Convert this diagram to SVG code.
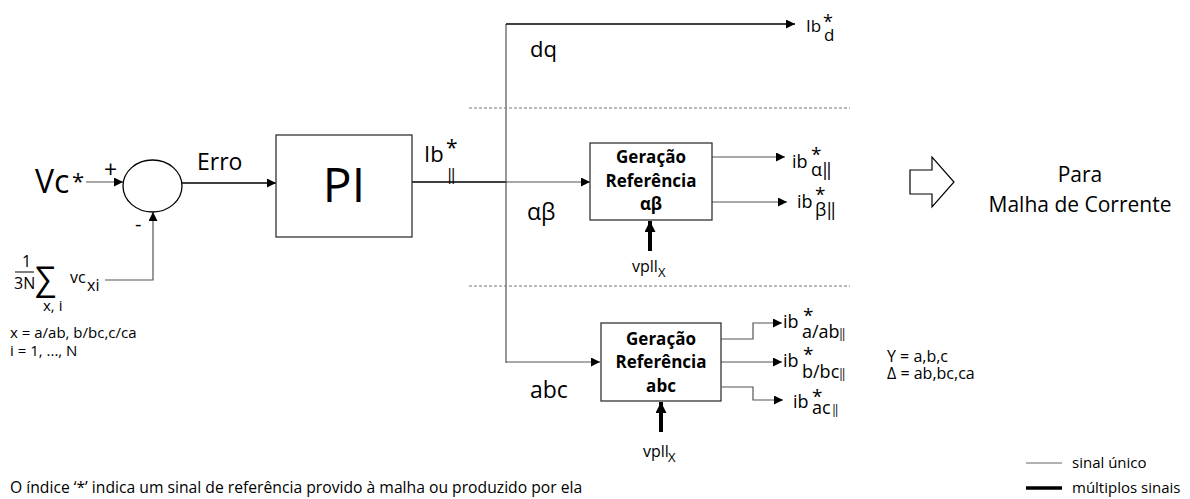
<svg xmlns="http://www.w3.org/2000/svg" width="1190" height="499" viewBox="0 0 1190 499">
<defs>
<marker id="ah" viewBox="0 0 10 10" refX="10" refY="5" markerWidth="10" markerHeight="9" markerUnits="userSpaceOnUse" orient="auto"><path d="M0,0 L10,5 L0,10 z" fill="#000"/></marker>
<marker id="ahb" viewBox="0 0 10 10" refX="10" refY="5" markerWidth="12" markerHeight="11" markerUnits="userSpaceOnUse" orient="auto"><path d="M0,0 L10,5 L0,10 z" fill="#000"/></marker>
<style>
text{font-family:"Open Sans","Noto Sans","Liberation Sans",sans-serif;fill:#000}
.w{stroke:#555;stroke-width:1.2;fill:none}
.k{stroke:#000;stroke-width:1.3;fill:none}
.box{fill:#fff;stroke:#333;stroke-width:1.3}
.thick{stroke:#000;stroke-width:4;fill:none}
.dash{stroke:#777;stroke-width:1;stroke-dasharray:3,2;fill:none}
.b{font-weight:bold;font-size:17px}
.m{font-size:23px}
.s{font-size:15px}
.o{font-size:18px}
.st{font-size:19px}
.p{font-size:13px}
</style>
</defs>
<rect width="1190" height="499" fill="#fff"/>

<g id="connectors">
<line class="w" x1="86" y1="182" x2="123" y2="182" marker-end="url(#ah)"/>
<polyline class="w" points="105,280 153,280 153,212" marker-end="url(#ah)"/>
<line class="k" x1="182" y1="183" x2="276" y2="183" marker-end="url(#ah)"/>
<line class="k" x1="412" y1="182" x2="507" y2="182" stroke-width="1.8"/>
<line class="w" x1="506" y1="182" x2="590" y2="182" marker-end="url(#ah)"/>
<line class="w" x1="506" y1="24" x2="506" y2="363"/>
<line class="k" x1="506" y1="24" x2="795" y2="24" marker-end="url(#ah)"/>
<line class="w" x1="506" y1="362" x2="600" y2="362" marker-end="url(#ah)"/>
<line class="dash" x1="469" y1="108" x2="850" y2="108"/>
<line class="dash" x1="469" y1="286" x2="850" y2="286"/>
<line class="w" x1="712" y1="157" x2="785" y2="157" marker-end="url(#ah)"/>
<line class="w" x1="712" y1="202" x2="787" y2="202" marker-end="url(#ah)"/>
<line class="thick" x1="650" y1="251" x2="650" y2="221" marker-end="url(#ahb)"/>
<polyline class="w" points="721,339 753,339 753,323 782,323" marker-end="url(#ah)"/>
<line class="w" x1="721" y1="362" x2="782" y2="362" marker-end="url(#ah)"/>
<polyline class="w" points="722,387 753,387 753,400 783,400" marker-end="url(#ah)"/>
<line class="thick" x1="661" y1="432" x2="661" y2="402" marker-end="url(#ahb)"/>
</g>

<g id="input-vc">
<text x="35" y="193" font-size="32">Vc</text>
<text x="72" y="189" font-size="22">*</text>
</g>

<g id="sum">
<ellipse cx="152.5" cy="186" rx="29.5" ry="26" fill="#fff" stroke="#000" stroke-width="1.3"/>
<text x="104" y="178" font-size="23">+</text>
<text x="135" y="231" font-size="20">-</text>
</g>

<g id="feedback">
<text x="22" y="267" font-size="16">1</text>
<line x1="15" y1="272" x2="34" y2="272" stroke="#000" stroke-width="1"/>
<text x="14" y="289" font-size="16">3N</text>
<text x="35" y="290" font-size="33" font-family="DejaVu Sans">∑</text>
<text x="70" y="283" font-size="16">vc</text>
<text x="87" y="291" font-size="16">xi</text>
<text x="43" y="311" font-size="15">x, i</text>
<text x="10" y="338" class="s">x = a/ab, b/bc,c/ca</text>
<text x="10" y="356" class="s">i = 1, ..., N</text>
</g>

<g id="erro"><text x="197" y="170" class="m">Erro</text></g>

<g id="pi">
<rect class="box" x="276" y="135" width="136" height="102"/>
<text x="344" y="202" font-size="48" text-anchor="middle">PI</text>
</g>

<g id="ib-par">
<text x="424" y="162" font-size="22">Ib</text>
<text x="447" y="180" font-size="16">‖</text>
<text x="446" y="155" font-size="21">*</text>
</g>

<g id="dq">
<text x="530" y="57" font-size="22">dq</text>
<text x="806" y="32" font-size="17">Ib</text>
<text x="824" y="41" font-size="17">d</text>
<text x="823" y="28" font-size="18">*</text>
</g>

<g id="gen-ab">
<rect class="box" x="590" y="143" width="122" height="77"/>
<text x="651" y="163" class="b" text-anchor="middle">Geração</text>
<text x="651" y="187" class="b" text-anchor="middle">Referência</text>
<text x="651" y="210" class="b" text-anchor="middle">αβ</text>
<text x="527" y="220" class="m">αβ</text>
<text x="632" y="272" font-size="16">vpll</text>
<text x="658" y="277" class="p">X</text>
<text x="792" y="168" class="o">ib</text>
<text x="811" y="176" class="o">α‖</text>
<text x="811" y="161" class="st">*</text>
<text x="797" y="208" class="o">ib</text>
<text x="815" y="216" class="o">β‖</text>
<text x="815" y="201" class="st">*</text>
</g>

<g id="gen-abc">
<rect class="box" x="601" y="323" width="120" height="78"/>
<text x="661" y="345" class="b" text-anchor="middle">Geração</text>
<text x="661" y="368" class="b" text-anchor="middle">Referência</text>
<text x="661" y="392" class="b" text-anchor="middle">abc</text>
<text x="530" y="398" class="m">abc</text>
<text x="643" y="457" font-size="16">vpll</text>
<text x="668" y="462" class="p">X</text>
<text x="783" y="328" class="o">ib</text>
<text x="802" y="338" class="o">a/ab</text>
<text x="839" y="338" font-size="12">‖</text>
<text x="803" y="322" class="st">*</text>
<text x="783" y="367" class="o">ib</text>
<text x="802" y="378" class="o">b/bc</text>
<text x="839" y="378" font-size="12">‖</text>
<text x="803" y="361" class="st">*</text>
<text x="793" y="408" class="o">ib</text>
<text x="812" y="414" class="o">ac</text>
<text x="832" y="414" font-size="12">‖</text>
<text x="812" y="403" class="st">*</text>
</g>

<g id="notes">
<text x="887" y="362" font-size="16">Y = a,b,c</text>
<text x="887" y="379" font-size="16">Δ = ab,bc,ca</text>
</g>

<g id="para">
<path d="M910,170 L932,170 L932,157 L954,182 L932,207 L932,194 L910,194 Z" fill="#fff" stroke="#000" stroke-width="1.2"/>
<text x="1080" y="182" font-size="21" text-anchor="middle">Para</text>
<text x="1080" y="212" font-size="21" text-anchor="middle">Malha de Corrente</text>
</g>

<g id="legend">
<line x1="1026" y1="463" x2="1062" y2="463" stroke="#666" stroke-width="1"/>
<text x="1072" y="468" class="s">sinal único</text>
<line x1="1026" y1="488" x2="1062" y2="488" stroke="#000" stroke-width="3.5"/>
<text x="1072" y="493" class="s">múltiplos sinais</text>
</g>

<g id="footer">
<text x="10" y="493" font-size="15.7">O índice ‘*’ indica um sinal de referência provido à malha ou produzido por ela</text>
</g>
</svg>
